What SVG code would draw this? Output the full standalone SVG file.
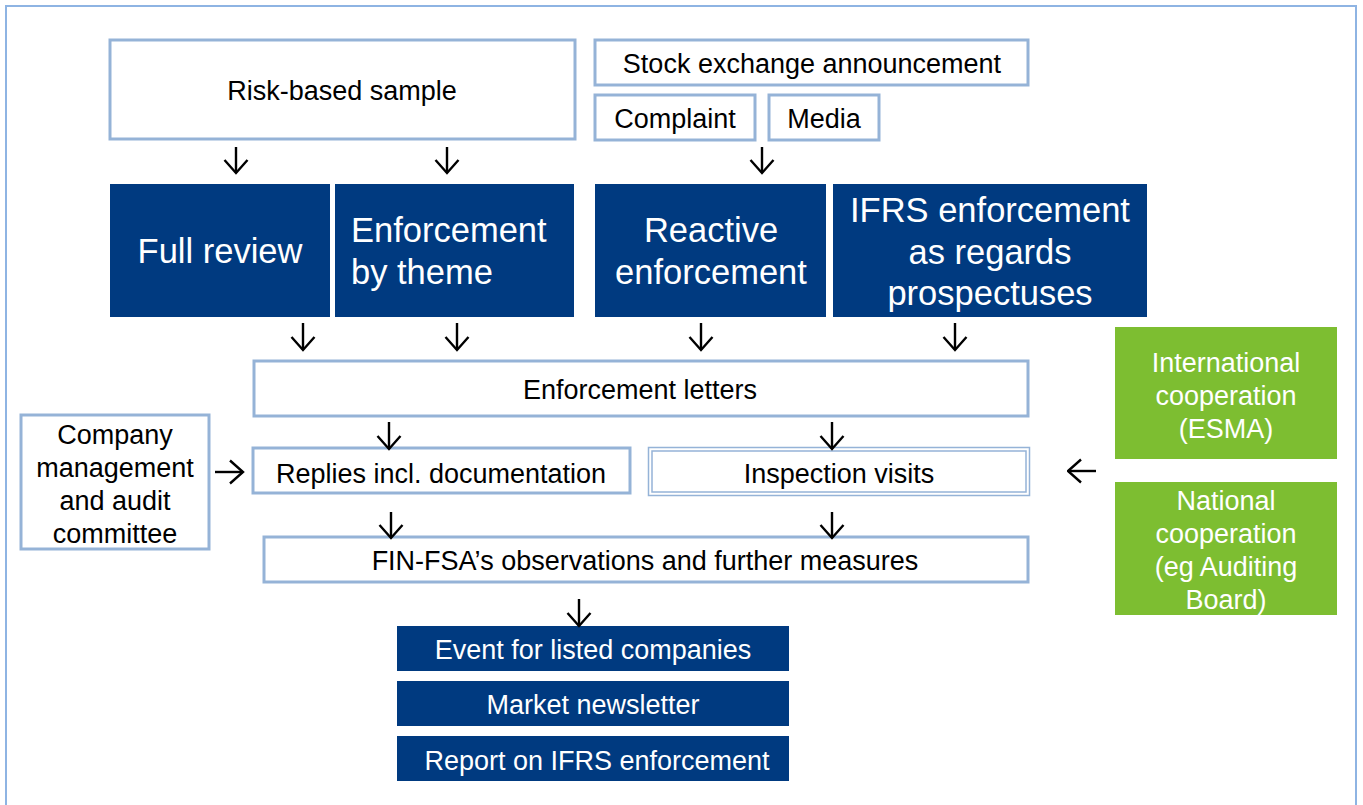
<svg xmlns="http://www.w3.org/2000/svg" width="1363" height="805" viewBox="0 0 1363 805">
<style>
.lb{fill:#fff;stroke:#95B3D7;stroke-width:3}
.db{fill:#003A80}
.gb{fill:#7DBE31}
text{font-family:"Liberation Sans",Arial,sans-serif;text-anchor:middle}
.t{font-size:27px;fill:#000}
.tw{font-size:27px;fill:#fff}
.big{font-size:34.5px;fill:#fff}
.tg{font-size:27px;fill:#fff}
.ar{stroke:#000;stroke-width:2.4;fill:none;marker-end:url(#ah)}
</style>
<defs>
<marker id="ah" markerUnits="userSpaceOnUse" viewBox="0 0 16 26" refX="14.5" refY="13" markerWidth="16" markerHeight="26" orient="auto">
<path d="M1.5,1.5 L14.5,13 L1.5,24.5" fill="none" stroke="#000" stroke-width="2.4"/>
</marker>
</defs>
<rect x="0" y="0" width="1363" height="805" fill="#fff"/>
<rect x="6" y="6" width="1350" height="810" fill="none" stroke="#8EB4E3" stroke-width="2"/>

<g id="risk-based-sample"><rect class="lb" x="110" y="40" width="465" height="99"/><text class="t" x="342" y="100">Risk-based sample</text></g>
<g id="stock-exchange"><rect class="lb" x="595" y="40" width="433" height="45"/><text class="t" x="812" y="73">Stock exchange announcement</text></g>
<g id="complaint"><rect class="lb" x="595" y="95" width="160" height="45"/><text class="t" x="675" y="128">Complaint</text></g>
<g id="media"><rect class="lb" x="769" y="95" width="110" height="45"/><text class="t" x="824" y="128">Media</text></g>

<g id="full-review"><rect class="db" x="110" y="184" width="220" height="133"/><text class="big" x="220" y="263">Full review</text></g>
<g id="enforcement-by-theme"><rect class="db" x="335" y="184" width="239" height="133"/><text class="big" x="351" y="242" style="text-anchor:start">Enforcement</text><text class="big" x="351" y="284" style="text-anchor:start">by theme</text></g>
<g id="reactive-enforcement"><rect class="db" x="595" y="184" width="231" height="133"/><text class="big" x="711" y="242">Reactive</text><text class="big" x="711" y="284">enforcement</text></g>
<g id="ifrs-prospectuses"><rect class="db" x="833" y="184" width="314" height="133"/><text class="big" x="990" y="222">IFRS enforcement</text><text class="big" x="990" y="264">as regards</text><text class="big" x="990" y="305">prospectuses</text></g>

<g id="enforcement-letters"><rect class="lb" x="254" y="361" width="774" height="55"/><text class="t" x="640" y="399">Enforcement letters</text></g>
<g id="company-management"><rect class="lb" x="21" y="415" width="188" height="134"/><text class="t" x="115" y="444">Company</text><text class="t" x="115" y="477">management</text><text class="t" x="115" y="510">and audit</text><text class="t" x="115" y="543">committee</text></g>
<g id="replies"><rect class="lb" x="253" y="448" width="377" height="45"/><text class="t" x="441" y="483">Replies incl. documentation</text></g>
<g id="inspection-visits"><rect x="648.5" y="447.5" width="381" height="48" fill="#fff" stroke="#95B3D7" stroke-width="1.5"/><rect x="652" y="451" width="374" height="41" fill="none" stroke="#95B3D7" stroke-width="1.5"/><text class="t" x="839" y="483">Inspection visits</text></g>
<g id="international-cooperation"><rect class="gb" x="1115" y="327" width="222" height="132"/><text class="tg" x="1226" y="372">International</text><text class="tg" x="1226" y="405">cooperation</text><text class="tg" x="1226" y="438">(ESMA)</text></g>
<g id="national-cooperation"><rect class="gb" x="1115" y="482" width="222" height="133"/><text class="tg" x="1226" y="510">National</text><text class="tg" x="1226" y="543">cooperation</text><text class="tg" x="1226" y="576">(eg Auditing</text><text class="tg" x="1226" y="609">Board)</text></g>
<g id="fin-fsa-observations"><rect class="lb" x="264" y="537" width="764" height="45"/><text class="t" x="645" y="570">FIN-FSA’s observations and further measures</text></g>

<g id="event-listed"><rect class="db" x="397" y="626" width="392" height="45"/><text class="tw" x="593" y="659">Event for listed companies</text></g>
<g id="market-newsletter"><rect class="db" x="397" y="681" width="392" height="45"/><text class="tw" x="593" y="714">Market newsletter</text></g>
<g id="report-ifrs"><rect class="db" x="397" y="736" width="392" height="45"/><text class="tw" x="597" y="770">Report on IFRS enforcement</text></g>

<g id="connectors">
<line class="ar" x1="236" y1="147" x2="236" y2="173"/>
<line class="ar" x1="447" y1="147" x2="447" y2="173"/>
<line class="ar" x1="762" y1="147" x2="762" y2="173"/>
<line class="ar" x1="303" y1="323" x2="303" y2="350"/>
<line class="ar" x1="457" y1="323" x2="457" y2="350"/>
<line class="ar" x1="701" y1="323" x2="701" y2="350"/>
<line class="ar" x1="955" y1="323" x2="955" y2="350"/>
<line class="ar" x1="389" y1="422" x2="389" y2="449"/>
<line class="ar" x1="832" y1="422" x2="832" y2="449"/>
<line class="ar" x1="215" y1="472" x2="243" y2="472"/>
<line class="ar" x1="1096" y1="471" x2="1068" y2="471"/>
<line class="ar" x1="391" y1="512" x2="391" y2="538"/>
<line class="ar" x1="832" y1="512" x2="832" y2="538"/>
<line class="ar" x1="579" y1="599" x2="579" y2="626"/>
</g>
</svg>
